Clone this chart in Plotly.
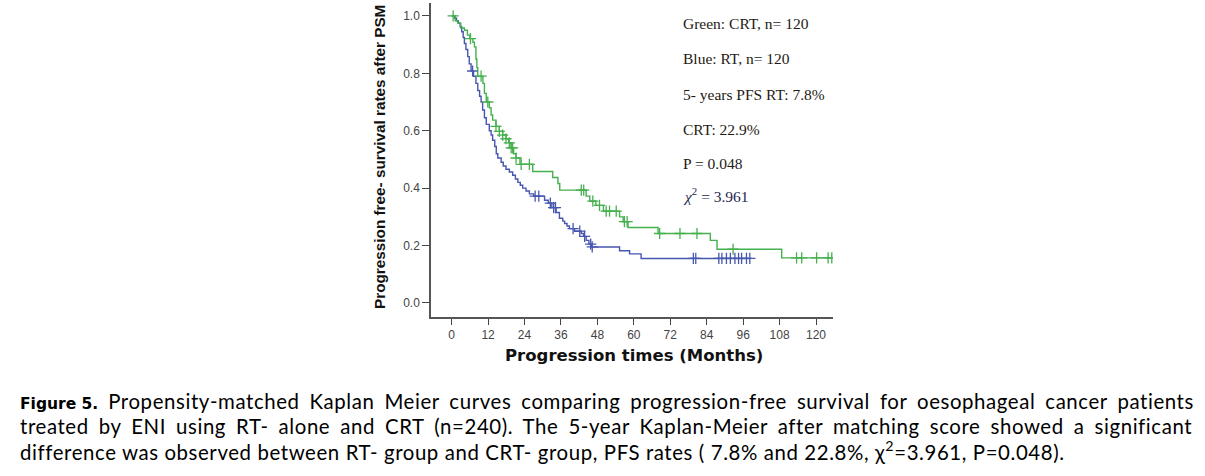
import numpy as np
import plotly.graph_objects as go

# ---------------- data ----------------
# RT (blue) Kaplan-Meier step points: time (months) and survival after the step
rt_times = [0, 1.0, 1.6, 2.2, 2.8, 3.3, 3.8, 4.2, 4.7, 5.3, 5.8, 6.4, 7.2, 8.0, 8.6, 9.2, 9.7,
            10.2, 10.8, 11.4, 12.4, 13.0, 13.5, 14.2, 14.7, 15.2, 16.3, 17.0, 17.9, 19.0, 20.1,
            21.0, 21.8, 22.6, 23.4, 24.5, 25.6, 27.0, 30.6, 31.8, 33.0, 34.4, 35.5, 36.6, 37.2,
            38.0, 38.8, 40.5, 42.7, 43.5, 44.3, 45.2, 46.0, 55.3, 58.6, 62.4]
rt_surv = [1.0, 0.992, 0.983, 0.975, 0.962, 0.945, 0.925, 0.904, 0.883, 0.858, 0.833, 0.808,
           0.79, 0.765, 0.74, 0.72, 0.70, 0.672, 0.645, 0.622, 0.60, 0.585, 0.567, 0.545, 0.52,
           0.505, 0.49, 0.477, 0.466, 0.456, 0.445, 0.432, 0.42, 0.41, 0.40, 0.39, 0.38, 0.372,
           0.358, 0.348, 0.332, 0.315, 0.295, 0.285, 0.277, 0.268, 0.259, 0.25, 0.242, 0.232,
           0.218, 0.205, 0.195, 0.182, 0.171, 0.155]
rt_censor = [6.9, 27.5, 28.7, 32.5, 33.6, 34.2, 40.0, 42.2, 43.8, 45.8, 46.3, 79.6, 80.4,
             88.0, 89.0, 90.5, 91.8, 93.3, 94.5, 95.5, 97.1, 98.2]

# CRT (green) Kaplan-Meier step points
crt_times = [0, 1.2, 2.0, 3.0, 4.2, 5.2, 6.0, 7.0, 7.5, 8.0, 8.3, 8.6, 10.3, 10.8, 11.4, 12.4,
             13.0, 13.5, 14.6, 15.7, 16.8, 17.9, 18.8, 19.6, 20.4, 21.2, 22.5, 26.7, 33.3, 35.0,
             35.6, 44.3, 45.5, 47.5, 50.0, 55.3, 56.5, 58.1, 68.0, 85.2, 87.4, 108.7]
crt_surv = [1.0, 0.983, 0.975, 0.958, 0.95, 0.933, 0.921, 0.908, 0.892, 0.85, 0.82, 0.79, 0.765,
            0.73, 0.70, 0.68, 0.655, 0.637, 0.615, 0.598, 0.585, 0.572, 0.558, 0.54, 0.52, 0.505,
            0.483, 0.458, 0.437, 0.416, 0.393, 0.372, 0.355, 0.34, 0.32, 0.30, 0.283, 0.263,
            0.242, 0.218, 0.187, 0.157]
crt_censor = [0.5, 6.2, 9.7, 11.9, 14.6, 15.7, 16.8, 17.9, 19.0, 19.6, 20.1, 21.2, 22.9, 25.6,
              42.7, 43.5, 46.5, 48.7, 50.9, 52.0, 54.2, 56.9, 57.8, 68.5, 75.2, 80.8, 92.7,
              113.6, 115.3, 120.2, 124.0, 125.2]

x_ticks = [0, 12, 24, 36, 48, 60, 72, 84, 96, 108, 120]
y_ticks = [0.0, 0.2, 0.4, 0.6, 0.8, 1.0]

info_lines = ["Green: CRT, n= 120", "Blue: RT, n= 120", "5- years PFS RT: 7.8%",
              "CRT: 22.9%", "P = 0.048"]
chi_line = "<i>χ</i><sup>2</sup> = 3.961"

caption_lines = [
    "<b><span style='font-family:DejaVu Sans;font-size:15.5px'>Figure 5.</span></b><span style='word-spacing:4.1px;letter-spacing:0.6px'> Propensity-matched Kaplan Meier curves comparing progression-free survival for oesophageal cancer patients</span>",
    "<span style='word-spacing:4.2px;letter-spacing:0.6px'>treated by ENI using RT- alone and CRT (n=240). The 5-year Kaplan-Meier after matching score showed a significant</span>",
    "<span style='letter-spacing:0.6px'>difference was observed between RT- group and CRT- group, PFS rates ( 7.8% and 22.8%, χ<sup>2</sup>=3.961, P=0.048).</span>",
]

BLUE = "#4757b0"
GREEN = "#45b04e"


def step_value(times, surv, t):
    idx = np.searchsorted(np.asarray(times), t, side="right") - 1
    return float(np.asarray(surv)[idx])


fig = go.Figure()

for times, surv, cens, col in [(rt_times, rt_surv, rt_censor, BLUE),
                               (crt_times, crt_surv, crt_censor, GREEN)]:
    xs = list(times) + [max(cens)]
    ys = list(surv) + [surv[-1]]
    fig.add_trace(go.Scatter(x=xs, y=ys, mode="lines", line=dict(color=col, width=1.4, shape="hv"),
                             showlegend=False, hoverinfo="skip"))
    cy = [step_value(times, surv, t) for t in cens]
    fig.add_trace(go.Scatter(x=cens, y=cy, mode="markers",
                             marker=dict(symbol="cross-thin", size=8, line=dict(color=col, width=1.3)),
                             showlegend=False, hoverinfo="skip"))

L, R, T, B = 431, 372, 3, 159
W, H = 1205, 476
pw = W - L - R
ph = H - T - B


def px_x(px):
    return (px - L) / pw


def px_y(py):
    return (H - B - py) / ph


annotations = []
info_y = [24, 59, 94, 129, 163]
for txt, yy in zip(info_lines, info_y):
    annotations.append(dict(text=txt, xref="paper", yref="paper", x=px_x(681), y=px_y(yy),
                            xanchor="left", yanchor="middle", showarrow=False,
                            font=dict(family="Liberation Serif", size=15.5, color="#1e1a14")))
annotations.append(dict(text=chi_line, xref="paper", yref="paper", x=px_x(681), y=px_y(195),
                        xanchor="left", yanchor="middle", showarrow=False,
                        font=dict(family="Liberation Serif", size=15.5, color="#26264e")))

# axis titles
annotations.append(dict(text="<b>Progression free- survival rates after PSM</b>", xref="paper", yref="paper",
                        x=px_x(379), y=px_y(157), textangle=-90, showarrow=False,
                        xanchor="center", yanchor="middle",
                        font=dict(family="Liberation Sans Narrow, Liberation Sans, Arial", size=15.3, color="#111")))
annotations.append(dict(text="<b>Progression times (Months)</b>", xref="paper", yref="paper",
                        x=px_x(634), y=px_y(355), showarrow=False,
                        xanchor="center", yanchor="middle",
                        font=dict(family="DejaVu Sans", size=16.5, color="#111")))

cap_y = [401, 426, 450]
for txt, yy in zip(caption_lines, cap_y):
    annotations.append(dict(text=txt, xref="paper", yref="paper", x=px_x(18), y=px_y(yy),
                            xanchor="left", yanchor="middle", showarrow=False, align="left",
                            font=dict(family="Lato", size=20.4, color="#000")))

fig.update_layout(
    width=W, height=H,
    margin=dict(l=L, r=R, t=T, b=B, pad=0),
    paper_bgcolor="white", plot_bgcolor="white",
    annotations=annotations,
    xaxis=dict(range=[-6.8, 125.6], tickvals=x_ticks, ticktext=[str(v) for v in x_ticks],
               showgrid=False, zeroline=False, showline=True, linecolor="#555", linewidth=1.5,
               ticks="outside", ticklen=6, tickwidth=1.3, tickcolor="#444",
               tickfont=dict(family="Liberation Sans", size=12, color="#444")),
    yaxis=dict(range=[-0.049, 1.045], tickvals=y_ticks, ticktext=[f"{v:.1f}" for v in y_ticks],
               showgrid=False, zeroline=False, showline=True, linecolor="#555", linewidth=1.5,
               ticks="outside", ticklen=7, tickwidth=1.3, tickcolor="#444",
               tickfont=dict(family="Liberation Sans", size=12, color="#444")),
)

fig.write_html("out.html", config={"displayModeBar": False},
               post_script="document.body.style.margin='0px';")
